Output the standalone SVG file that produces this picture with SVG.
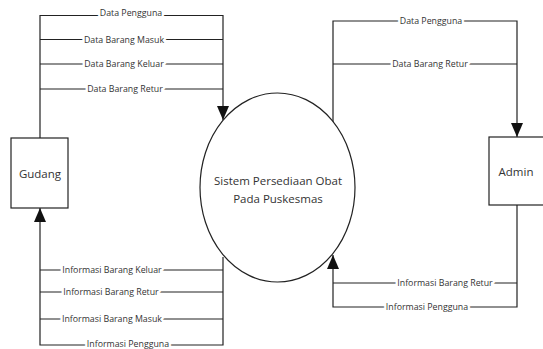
<svg xmlns="http://www.w3.org/2000/svg" width="543" height="349" viewBox="0 0 543 349">
<style>
.ln{fill:none;stroke:#222;stroke-width:1.2}
.box{fill:#fff;stroke:#222;stroke-width:1.2}
.lbl{font-family:"Open Sans","Liberation Sans",sans-serif;font-size:8.8px;fill:#333;text-anchor:middle;dominant-baseline:central;paint-order:stroke;stroke:#fff;stroke-width:5px;stroke-linejoin:round}
.nt{font-family:"Open Sans","Liberation Sans",sans-serif;font-size:11.5px;fill:#333;text-anchor:middle;dominant-baseline:central}
</style>
<defs>
<marker id="ah" markerUnits="userSpaceOnUse" markerWidth="14" markerHeight="16" refX="14" refY="7" orient="auto">
<path d="M0,1 L14,7 L0,13 Z" fill="#111"/>
</marker>
</defs>
<g id="connectors">
<path class="ln" d="M40,138 V15.5 H223 V120" marker-end="url(#ah)"/>
<path class="ln" d="M40,39.5 H223 M40,64 H223 M40,89 H223"/>
<path class="ln" d="M333,122 V21 H517 V137" marker-end="url(#ah)"/>
<path class="ln" d="M333,64 H517"/>
<path class="ln" d="M223,257 V345 H40 V208" marker-end="url(#ah)"/>
<path class="ln" d="M40,270 H223 M40,292 H223 M40,319 H223"/>
<path class="ln" d="M517,205 V307 H333 V255" marker-end="url(#ah)"/>
<path class="ln" d="M333,283 H517"/>
<text class="lbl" x="131" y="13">Data Pengguna</text>
<text class="lbl" x="124" y="39.5">Data Barang Masuk</text>
<text class="lbl" x="124" y="64">Data Barang Keluar</text>
<text class="lbl" x="125" y="89">Data Barang Retur</text>
<text class="lbl" x="431" y="21">Data Pengguna</text>
<text class="lbl" x="430" y="64">Data Barang Retur</text>
<text class="lbl" x="112" y="270">Informasi Barang Keluar</text>
<text class="lbl" x="111" y="291.5">Informasi Barang Retur</text>
<text class="lbl" x="112" y="319">Informasi Barang Masuk</text>
<text class="lbl" x="128" y="344">Informasi Pengguna</text>
<text class="lbl" x="445" y="283">Informasi Barang Retur</text>
<text class="lbl" x="427" y="307">Informasi Pengguna</text>
</g>
<g id="gudang">
<rect class="box" x="11" y="138" width="57" height="70"/>
<text class="nt" x="40" y="173">Gudang</text>
</g>
<g id="sistem">
<ellipse class="box" cx="277.5" cy="187.5" rx="77.5" ry="94.5"/>
<text class="nt" x="278" y="180">Sistem Persediaan Obat</text>
<text class="nt" x="278" y="198">Pada Puskesmas</text>
</g>
<g id="admin">
<rect class="box" x="489" y="137" width="60" height="68"/>
<text class="nt" x="516" y="171">Admin</text>
</g>
</svg>
